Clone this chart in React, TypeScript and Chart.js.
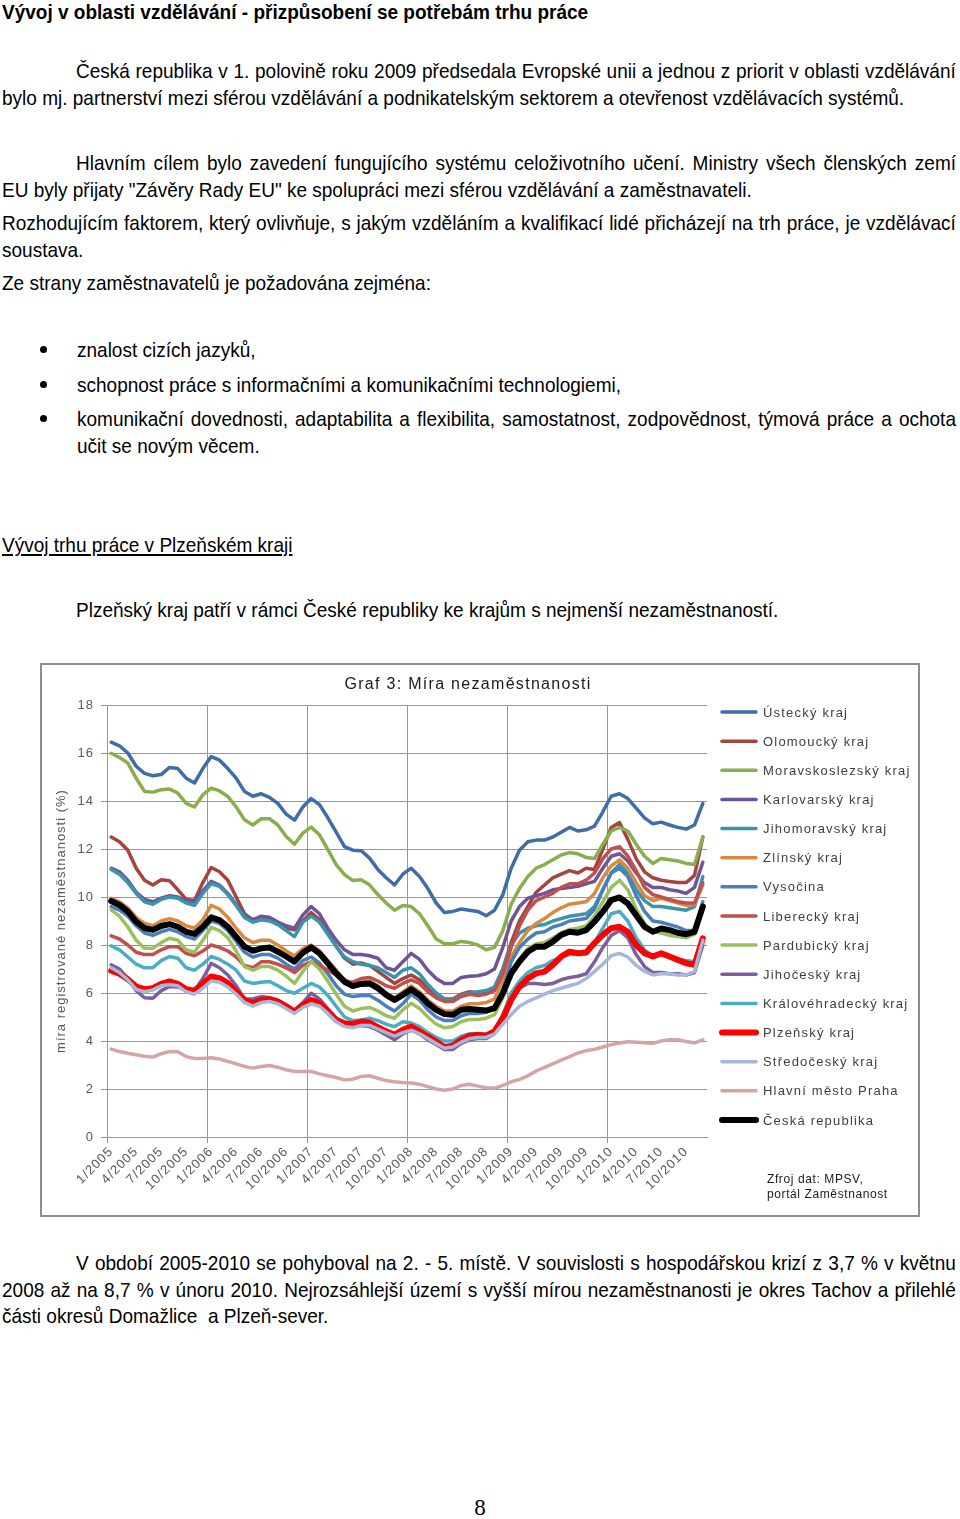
import React, { useEffect, useRef } from 'react';
import { Chart, registerables } from 'chart.js';

Chart.register(...registerables);

// ---------- data ----------
const YEARS = [2005, 2006, 2007, 2008, 2009, 2010];
const MONTHS = [1, 2, 3, 4, 5, 6, 7, 8, 9, 10, 11, 12];
const CATEGORIES: string[] = YEARS.flatMap((y) => MONTHS.map((m) => `${m}/${y}`));

const SERIES_NAMES = [
  'Ústecký kraj',
  'Olomoucký kraj',
  'Moravskoslezský kraj',
  'Karlovarský kraj',
  'Jihomoravský kraj',
  'Zlínský kraj',
  'Vysočina',
  'Liberecký kraj',
  'Pardubický kraj',
  'Jihočeský kraj',
  'Královéhradecký kraj',
  'Plzeňský kraj',
  'Středočeský kraj',
  'Hlavní město Praha',
  'Česká republika',
];

const USTECKY = [
  16.45, 16.3, 16.0, 15.45, 15.15, 15.05, 15.1, 15.4, 15.35, 14.95, 14.75, 15.35,
  15.85, 15.7, 15.35, 14.95, 14.4, 14.2, 14.3, 14.15, 13.9, 13.45, 13.2, 13.75,
  14.1, 13.85, 13.3, 12.7, 12.1, 11.95, 11.93, 11.62, 11.15, 10.8, 10.5, 10.95,
  11.2, 10.85, 10.35, 9.75, 9.35, 9.4, 9.5, 9.45, 9.4, 9.22, 9.45, 10.1,
  11.2, 11.95, 12.3, 12.37, 12.37, 12.5, 12.7, 12.9, 12.75, 12.8, 12.95, 13.55,
  14.2, 14.3, 14.1, 13.7, 13.3, 13.05, 13.12, 13.0, 12.9, 12.83, 13.0, 13.9,
];
const OLOMOUCKY = [
  12.5, 12.3, 11.95, 11.2, 10.7, 10.5, 10.72, 10.68, 10.3, 9.9, 9.85, 10.6,
  11.23, 11.05, 10.7, 10.0, 9.3, 9.05, 9.15, 9.15, 8.95, 8.7, 8.63, 9.0,
  9.35, 9.05, 8.5, 7.95, 7.45, 7.2, 7.25, 7.15, 6.9, 6.65, 6.4, 6.6,
  6.75, 6.55, 6.2, 5.9, 5.75, 5.75, 5.95, 6.05, 6.0, 6.05, 6.2, 7.0,
  8.1, 9.0, 9.6, 10.2, 10.5, 10.8, 10.95, 11.1, 11.0, 11.2, 11.15, 12.0,
  12.9, 13.1, 12.4, 11.6, 11.05, 10.8, 10.7, 10.65, 10.6, 10.6, 10.9, 12.5,
];
const MORAVSKOSLEZSKY = [
  15.99, 15.81, 15.58, 14.95, 14.4, 14.37, 14.47, 14.5, 14.33, 13.9, 13.75, 14.26,
  14.54, 14.42, 14.19, 13.75, 13.22, 13.0, 13.26, 13.26, 13.0, 12.52, 12.2, 12.66,
  12.91, 12.59, 11.97, 11.35, 10.93, 10.69, 10.72, 10.51, 10.1, 9.75, 9.45, 9.65,
  9.6, 9.3, 8.8, 8.25, 8.05, 8.05, 8.15, 8.1, 8.0, 7.8, 7.9, 8.6,
  9.7, 10.35, 10.85, 11.2, 11.35, 11.55, 11.75, 11.85, 11.8, 11.65, 11.6, 12.2,
  12.75, 12.9, 12.75, 12.2, 11.7, 11.4, 11.6, 11.55, 11.5, 11.4, 11.35, 12.5,
];
const KARLOVARSKY = [
  11.2, 11.05, 10.7, 10.2, 9.9, 9.8, 9.95, 10.05, 10.0, 9.85, 9.8, 10.25,
  10.65, 10.5, 10.15, 9.7, 9.25, 9.05, 9.2, 9.15, 8.95, 8.8, 8.7, 9.25,
  9.6, 9.3, 8.7, 8.2, 7.8, 7.6, 7.6, 7.55, 7.45, 7.05, 6.95, 7.3,
  7.65, 7.4, 6.95, 6.6, 6.4, 6.4, 6.65, 6.7, 6.72, 6.8, 7.0, 7.9,
  9.0, 9.6, 9.95, 10.05, 10.15, 10.3, 10.35, 10.4, 10.45, 10.55, 10.65, 11.2,
  11.7, 11.8, 11.5, 11.0, 10.6, 10.4, 10.4, 10.3, 10.25, 10.15, 10.4, 11.45,
];
const JIHOMORAVSKY = [
  11.15, 10.95, 10.6, 10.15, 9.8, 9.7, 9.9, 10.0, 9.95, 9.75, 9.65, 10.15,
  10.55, 10.45, 10.1, 9.65, 9.15, 8.95, 9.05, 9.0, 8.85, 8.6, 8.35, 8.95,
  9.2, 8.95, 8.45, 7.95, 7.5, 7.3, 7.2, 7.15, 7.05, 6.85, 6.65, 6.95,
  7.05, 6.8, 6.35, 6.0, 5.75, 5.7, 5.9, 6.0, 6.05, 6.1, 6.25, 7.0,
  8.0, 8.5, 8.7, 8.8, 8.85, 9.0, 9.1, 9.2, 9.25, 9.3, 9.6, 10.3,
  11.0, 11.35, 11.0, 10.3, 9.85, 9.6, 9.6, 9.55, 9.5, 9.45, 9.6, 10.85,
];
const ZLINSKY = [
  9.95, 9.8, 9.55, 9.15, 8.9, 8.8, 9.0, 9.1, 9.0, 8.8, 8.7, 9.05,
  9.65, 9.5, 9.15, 8.7, 8.3, 8.1, 8.2, 8.2, 8.0, 7.75, 7.55, 7.85,
  8.0, 7.75, 7.35, 6.95, 6.55, 6.35, 6.45, 6.5, 6.3, 6.0, 5.8, 6.05,
  6.3, 6.05, 5.7, 5.45, 5.25, 5.25, 5.45, 5.55, 5.55, 5.6, 5.75, 6.5,
  7.5, 8.1, 8.6, 8.9, 9.1, 9.35, 9.55, 9.7, 9.75, 9.8, 10.15, 10.8,
  11.3, 11.55, 11.2, 10.6, 10.05, 9.85, 9.95, 9.85, 9.75, 9.65, 9.7, 10.5,
];
const VYSOCINA = [
  9.6, 9.45, 9.2, 8.8, 8.5, 8.4, 8.55, 8.65, 8.55, 8.35, 8.25, 8.6,
  9.0, 8.9, 8.6, 8.15, 7.7, 7.5, 7.6, 7.6, 7.45, 7.2, 7.0, 7.35,
  7.5, 7.25, 6.8, 6.3, 5.95, 5.85, 5.9, 5.9, 5.7, 5.45, 5.25, 5.55,
  5.95, 5.7, 5.3, 5.0, 4.85, 4.85, 5.05, 5.15, 5.15, 5.2, 5.35, 6.1,
  7.3, 7.9, 8.25, 8.5, 8.55, 8.75, 8.85, 9.0, 9.05, 9.1, 9.5, 10.3,
  11.0, 11.2, 10.85, 10.05, 9.4, 9.0, 8.95, 8.85, 8.75, 8.6, 8.6, 9.8,
];
const LIBERECKY = [
  8.38, 8.25, 8.0, 7.7, 7.6, 7.6, 7.8, 7.93, 7.93, 7.65, 7.55, 7.75,
  8.0, 7.9, 7.75, 7.5, 7.15, 7.05, 7.3, 7.3, 7.2, 7.05, 6.85, 7.15,
  7.3, 7.15, 6.95, 6.75, 6.5, 6.45, 6.6, 6.65, 6.5, 6.3, 6.2, 6.4,
  6.55, 6.4, 6.05, 5.8, 5.65, 5.65, 5.85, 5.95, 5.9, 5.95, 6.1, 6.8,
  7.9, 8.8, 9.45, 9.85, 10.0, 10.15, 10.4, 10.55, 10.55, 10.7, 11.0, 11.6,
  12.0, 12.1, 11.7, 11.1, 10.4, 10.1, 10.0, 9.9, 9.8, 9.75, 9.75, 10.6,
];
const PARDUBICKY = [
  9.46, 9.2, 8.75, 8.2, 7.86, 7.86, 8.1, 8.28, 8.2, 7.8, 7.7, 8.2,
  8.73, 8.6, 8.3, 7.75, 7.1, 6.95, 7.1, 7.1, 6.95, 6.7, 6.4, 6.9,
  7.3, 7.0, 6.5, 5.95, 5.45, 5.25, 5.35, 5.4, 5.25, 5.05, 4.95, 5.3,
  5.57, 5.35, 5.0, 4.7, 4.55, 4.6, 4.8, 4.9, 4.9, 4.95, 5.1, 5.8,
  6.8, 7.4, 7.85, 8.05, 8.1, 8.3, 8.5, 8.65, 8.7, 8.8, 9.2, 9.8,
  10.4, 10.7, 10.3, 9.5, 8.9, 8.55, 8.5, 8.4, 8.35, 8.3, 8.45, 9.5,
];
const JIHOCESKY = [
  7.17, 7.0, 6.6, 6.1, 5.8, 5.78, 6.1, 6.27, 6.25, 6.13, 6.1, 6.6,
  7.24, 7.05, 6.75, 6.3, 5.75, 5.75, 5.85, 5.8, 5.7, 5.5, 5.25, 5.6,
  5.99, 5.75, 5.35, 4.95, 4.7, 4.6, 4.65, 4.6, 4.45, 4.25, 4.05, 4.3,
  4.45, 4.3, 4.05, 3.85, 3.65, 3.65, 3.9, 4.05, 4.1, 4.1, 4.3, 4.95,
  5.9, 6.2, 6.4, 6.4, 6.35, 6.4, 6.55, 6.65, 6.7, 6.8, 7.3, 7.9,
  8.4, 8.6, 8.3, 7.6, 7.1, 6.85, 6.85, 6.8, 6.8, 6.75, 6.85, 8.0,
];
const KRALOVEHRADECKY = [
  7.96, 7.8, 7.5, 7.2, 7.05, 7.05, 7.35, 7.52, 7.45, 7.05, 6.95, 7.2,
  7.52, 7.4, 7.2, 6.95, 6.5, 6.4, 6.45, 6.48, 6.3, 6.1, 5.99, 6.2,
  6.4, 6.25, 5.9, 5.45, 5.0, 4.85, 4.88, 4.95, 4.85, 4.7, 4.6, 4.8,
  4.75, 4.6, 4.35, 4.15, 4.0, 4.0, 4.2, 4.3, 4.3, 4.3, 4.45, 5.1,
  6.0, 6.5, 6.85, 7.05, 7.15, 7.35, 7.5, 7.6, 7.6, 7.65, 8.1, 8.7,
  9.3, 9.4, 9.0, 8.3, 7.8, 7.55, 7.6, 7.5, 7.4, 7.35, 7.3, 8.2,
];
const PLZENSKY = [
  6.93, 6.8, 6.57, 6.27, 6.16, 6.2, 6.38, 6.48, 6.38, 6.16, 6.1, 6.38,
  6.69, 6.62, 6.41, 6.06, 5.71, 5.57, 5.71, 5.74, 5.64, 5.44, 5.23, 5.5,
  5.71, 5.57, 5.23, 4.88, 4.74, 4.71, 4.81, 4.77, 4.58, 4.4, 4.26, 4.47,
  4.6, 4.4, 4.19, 3.98, 3.75, 3.8, 4.05, 4.21, 4.26, 4.21, 4.4, 4.95,
  5.71, 6.27, 6.61, 6.82, 6.89, 7.17, 7.52, 7.72, 7.66, 7.69, 8.08, 8.42,
  8.7, 8.76, 8.55, 8.0, 7.66, 7.52, 7.66, 7.52, 7.38, 7.24, 7.17, 8.28,
];
const STREDOCESKY = [
  7.05, 6.85, 6.55, 6.15, 6.05, 6.13, 6.3, 6.35, 6.3, 6.05, 5.95, 6.2,
  6.5, 6.45, 6.25, 5.95, 5.6, 5.45, 5.6, 5.65, 5.55, 5.35, 5.15, 5.4,
  5.55, 5.45, 5.15, 4.8, 4.6, 4.55, 4.65, 4.65, 4.5, 4.35, 4.2, 4.35,
  4.45, 4.3, 4.1, 3.9, 3.7, 3.75, 3.95, 4.1, 4.15, 4.15, 4.3, 4.7,
  5.1, 5.45, 5.65, 5.8, 5.95, 6.1, 6.2, 6.3, 6.4, 6.6, 6.9, 7.2,
  7.55, 7.65, 7.5, 7.15, 6.9, 6.75, 6.8, 6.8, 6.75, 6.75, 6.9, 8.2,
];
const PRAHA = [
  3.66, 3.56, 3.49, 3.43, 3.36, 3.33, 3.47, 3.56, 3.55, 3.35, 3.27, 3.27,
  3.3, 3.25, 3.15, 3.05, 2.94, 2.87, 2.94, 2.98, 2.91, 2.8, 2.73, 2.73,
  2.73, 2.63, 2.55, 2.48, 2.38, 2.41, 2.52, 2.55, 2.45, 2.35, 2.3, 2.27,
  2.25, 2.2, 2.1, 2.0, 1.95, 2.0, 2.15, 2.2, 2.12, 2.05, 2.03, 2.15,
  2.3, 2.4, 2.55, 2.75, 2.9, 3.05, 3.2, 3.35, 3.5, 3.6, 3.65, 3.75,
  3.85, 3.92, 3.97, 3.95, 3.93, 3.9, 4.0, 4.05, 4.05, 3.98, 3.92, 4.05,
];
const CESKA_REPUBLIKA = [
  9.83, 9.67, 9.39, 8.97, 8.7, 8.63, 8.79, 8.87, 8.76, 8.55, 8.46, 8.76,
  9.15, 9.04, 8.76, 8.35, 7.93, 7.76, 7.86, 7.9, 7.72, 7.52, 7.31, 7.68,
  7.9, 7.65, 7.24, 6.82, 6.47, 6.29, 6.38, 6.4, 6.2, 5.92, 5.71, 5.92,
  6.16, 5.92, 5.57, 5.3, 5.12, 5.09, 5.3, 5.33, 5.3, 5.27, 5.37, 5.99,
  6.82, 7.31, 7.72, 7.93, 7.93, 8.14, 8.42, 8.55, 8.51, 8.62, 8.97, 9.39,
  9.87, 9.98, 9.73, 9.24, 8.76, 8.55, 8.69, 8.62, 8.51, 8.45, 8.55, 9.6,
];

const SERIES_VALUES = [
  USTECKY, OLOMOUCKY, MORAVSKOSLEZSKY, KARLOVARSKY, JIHOMORAVSKY, ZLINSKY, VYSOCINA,
  LIBERECKY, PARDUBICKY, JIHOCESKY, KRALOVEHRADECKY, PLZENSKY, STREDOCESKY, PRAHA, CESKA_REPUBLIKA,
];
const SERIES_COLORS = [
  '#3E6DA8', '#A5433F', '#8AAE4E', '#6F5595', '#3994AD', '#DA8A3E', '#4A7EBF',
  '#C0504D', '#9BC05C', '#7D5FA0', '#4BACC6', '#FF0000', '#A5B8D8', '#D4A5A5', '#000000',
];
const SERIES_WIDTHS = [3.5, 3.5, 3.5, 3.5, 3.5, 3.5, 3.5, 3.5, 3.5, 3.5, 3.5, 6, 3.5, 3.5, 6];

const Y_TICKS = [0, 2, 4, 6, 8, 10, 12, 14, 16, 18];
const CHART_TITLE = 'Graf 3: Míra nezaměstnanosti';
const Y_TITLE = 'míra registrované nezaměstnanosti (%)';
const SOURCE_LINES = ['Zfroj dat: MPSV,', 'portál Zaměstnanost'];

// ---------- page text ----------
type Ln = { x: number; y: number; w?: number; t: string; b?: boolean; u?: boolean };
const LINES: Ln[] = [
  { x: 2, y: 12, t: 'Vývoj v oblasti vzdělávání - přizpůsobení se potřebám trhu práce', b: true },
  { x: 76, y: 71, w: 880, t: 'Česká republika v 1. polovině roku 2009 předsedala Evropské unii a jednou z priorit v oblasti vzdělávání' },
  { x: 2, y: 98, t: 'bylo mj. partnerství mezi sférou vzdělávání a podnikatelským sektorem a otevřenost vzdělávacích systémů.' },
  { x: 76, y: 163, w: 880, t: 'Hlavním cílem bylo zavedení fungujícího systému celoživotního učení. Ministry všech členských zemí' },
  { x: 2, y: 190, t: 'EU byly přijaty "Závěry Rady EU" ke spolupráci mezi sférou vzdělávání a zaměstnavateli.' },
  { x: 2, y: 223, w: 954, t: 'Rozhodujícím faktorem, který ovlivňuje, s jakým vzděláním a kvalifikací lidé přicházejí na trh práce, je vzdělávací' },
  { x: 2, y: 250, t: 'soustava.' },
  { x: 2, y: 283, t: 'Ze strany zaměstnavatelů je požadována zejména:' },
  { x: 77, y: 350, t: 'znalost cizích jazyků,' },
  { x: 77, y: 385, t: 'schopnost práce s informačními a komunikačními technologiemi,' },
  { x: 77, y: 419, w: 879, t: 'komunikační dovednosti, adaptabilita a flexibilita, samostatnost, zodpovědnost, týmová práce a ochota' },
  { x: 77, y: 446, t: 'učit se novým věcem.' },
  { x: 2, y: 545, t: 'Vývoj trhu práce v Plzeňském kraji', u: true },
  { x: 76, y: 610, t: 'Plzeňský kraj patří v rámci České republiky ke krajům s nejmenší nezaměstnaností.' },
  { x: 76, y: 1263, w: 880, t: 'V období 2005-2010 se pohyboval na 2. - 5. místě. V souvislosti s hospodářskou krizí z 3,7 % v květnu' },
  { x: 2, y: 1290, w: 954, t: '2008 až na 8,7 % v únoru 2010. Nejrozsáhlejší území s vyšší mírou nezaměstnanosti je okres Tachov a přilehlé' },
  { x: 2, y: 1316, t: 'části okresů Domažlice  a Plzeň-sever.' },
];
const BULLET_Y = [350, 385, 419];

const TEXT_FONT = '"Liberation Sans", Arial, sans-serif';
const TEXT_SIZE = 21;
const TEXT_SCALE_X = 0.905;
const CHART_FONT = '"Liberation Sans", Arial, sans-serif';
const GRID = '#979797';
const AXIS_TEXT = '#595959';

function Line({ x, y, w, t, b, u }: Ln) {
  const base: React.CSSProperties = {
    position: 'absolute',
    left: x,
    top: y - 12,
    height: 24,
    lineHeight: '24px',
    fontFamily: TEXT_FONT,
    fontSize: TEXT_SIZE,
    fontWeight: b ? 'bold' : 'normal',
    textDecoration: u ? 'underline' : 'none',
    whiteSpace: 'pre',
    color: '#000',
    transform: `scaleX(${TEXT_SCALE_X})`,
    transformOrigin: '0 50%',
  };
  if (w) {
    return (
      <div style={{ ...base, width: w / TEXT_SCALE_X, display: 'flex', justifyContent: 'space-between' }}>
        {t.split(' ').map((wd, i) => (
          <span key={i}>{wd}</span>
        ))}
      </div>
    );
  }
  return <div style={base}>{t}</div>;
}

const spacingPlugin = {
  id: 'spacing',
  beforeUpdate(chart: any) {
    chart.ctx.letterSpacing = '1px';
  },
  beforeDraw(chart: any) {
    chart.ctx.letterSpacing = '1px';
  },
};

const overlayPlugin = {
  id: 'overlay',
  afterDraw(chart: any) {
    const ctx = chart.ctx as CanvasRenderingContext2D;
    ctx.save();
    (ctx as any).letterSpacing = '1.3px';
    ctx.fillStyle = '#1a1a1a';
    ctx.font = `16px ${CHART_FONT}`;
    ctx.textAlign = 'center';
    ctx.textBaseline = 'middle';
    ctx.fillText(CHART_TITLE, 426, 20);

    (ctx as any).letterSpacing = '1.2px';
    chart.data.datasets.forEach((ds: any, k: number) => {
      const y = 47 + k * 29.14;
      ctx.strokeStyle = ds.borderColor;
      ctx.lineWidth = ds.borderWidth;
      ctx.lineCap = 'round';
      ctx.beginPath();
      ctx.moveTo(680, y);
      ctx.lineTo(714, y);
      ctx.stroke();
      ctx.fillStyle = '#404040';
      ctx.font = `13px ${CHART_FONT}`;
      ctx.textAlign = 'left';
      ctx.textBaseline = 'middle';
      ctx.fillText(ds.label, 721, y + 1);
    });

    (ctx as any).letterSpacing = '0.6px';
    ctx.fillStyle = '#1a1a1a';
    ctx.font = `12px ${CHART_FONT}`;
    SOURCE_LINES.forEach((s, i) => ctx.fillText(s, 725, 515 + i * 15));
    ctx.restore();
  },
};

function ChartBox() {
  const ref = useRef<HTMLCanvasElement | null>(null);
  useEffect(() => {
    if (!ref.current) return;
    Chart.defaults.font.family = CHART_FONT;
    const datasets = SERIES_NAMES.map((name, i) => ({
      label: name,
      data: SERIES_VALUES[i],
      borderColor: SERIES_COLORS[i],
      backgroundColor: SERIES_COLORS[i],
      borderWidth: SERIES_WIDTHS[i],
      pointRadius: 0,
      pointHoverRadius: 0,
      tension: 0,
      fill: false,
      borderJoinStyle: 'round' as const,
      borderCapStyle: 'round' as const,
      order: SERIES_NAMES.length - 1 - i,
    }));
    const chart = new Chart(ref.current, {
      type: 'line',
      data: { labels: CATEGORIES, datasets },
      plugins: [spacingPlugin, overlayPlugin],
      options: {
        animation: false,
        responsive: false,
        events: [],
        layout: { padding: { top: 40, right: 211, left: 0, bottom: 0 } },
        plugins: {
          legend: { display: false },
          title: { display: false },
          tooltip: { enabled: false },
        },
        scales: {
          x: {
            type: 'category',
            offset: true,
            grid: {
              offset: true,
              color: (c: any) => (c.index % 12 === 0 ? GRID : 'rgba(0,0,0,0)'),
              tickLength: 6,
              lineWidth: 1,
            },
            border: { display: true, color: GRID },
            ticks: {
              autoSkip: false,
              maxRotation: 45,
              minRotation: 45,
              color: AXIS_TEXT,
              font: { size: 13 },
              padding: 1,
              callback: (_v: any, i: number) => (i % 3 === 0 ? CATEGORIES[i] : ''),
            },
            afterFit: (s: any) => {
              s.height = 78;
            },
          },
          y: {
            min: 0,
            max: 18,
            afterBuildTicks: (s: any) => {
              s.ticks = Y_TICKS.map((v) => ({ value: v }));
            },
            ticks: { color: AXIS_TEXT, font: { size: 13 }, padding: 7 },
            grid: { color: GRID, tickLength: 6, lineWidth: 1 },
            border: { display: true, color: GRID },
            title: {
              display: true,
              text: Y_TITLE,
              color: AXIS_TEXT,
              font: { size: 13 },
              padding: { top: 12, bottom: 0 },
            },
            afterFit: (s: any) => {
              s.width = 65;
            },
          },
        },
      } as any,
    });
    return () => chart.destroy();
  }, []);
  return <canvas ref={ref} width={876} height={550} style={{ display: 'block', width: 876, height: 550 }} />;
}

export default function App() {
  return (
    <div style={{ position: 'absolute', left: 0, top: 0, width: 960, height: 1519, overflow: 'hidden', background: '#fff' }}>
      {LINES.map((l, i) => (
        <Line key={i} {...l} />
      ))}
      {BULLET_Y.map((y, i) => (
        <div
          key={i}
          style={{ position: 'absolute', left: 40, top: y - 4, width: 7, height: 7, borderRadius: '50%', background: '#000' }}
        />
      ))}
      <div
        style={{
          position: 'absolute',
          left: 40,
          top: 663,
          width: 880,
          height: 554,
          border: '2px solid #8c8c8c',
          boxSizing: 'border-box',
          background: '#fff',
        }}
      >
        <ChartBox />
      </div>
      <div
        style={{
          position: 'absolute',
          left: 0,
          width: 960,
          top: 1494,
          height: 28,
          lineHeight: '28px',
          textAlign: 'center',
          fontFamily: '"Liberation Serif", "Times New Roman", serif',
          fontSize: 23,
        }}
      >
        8
      </div>
    </div>
  );
}
